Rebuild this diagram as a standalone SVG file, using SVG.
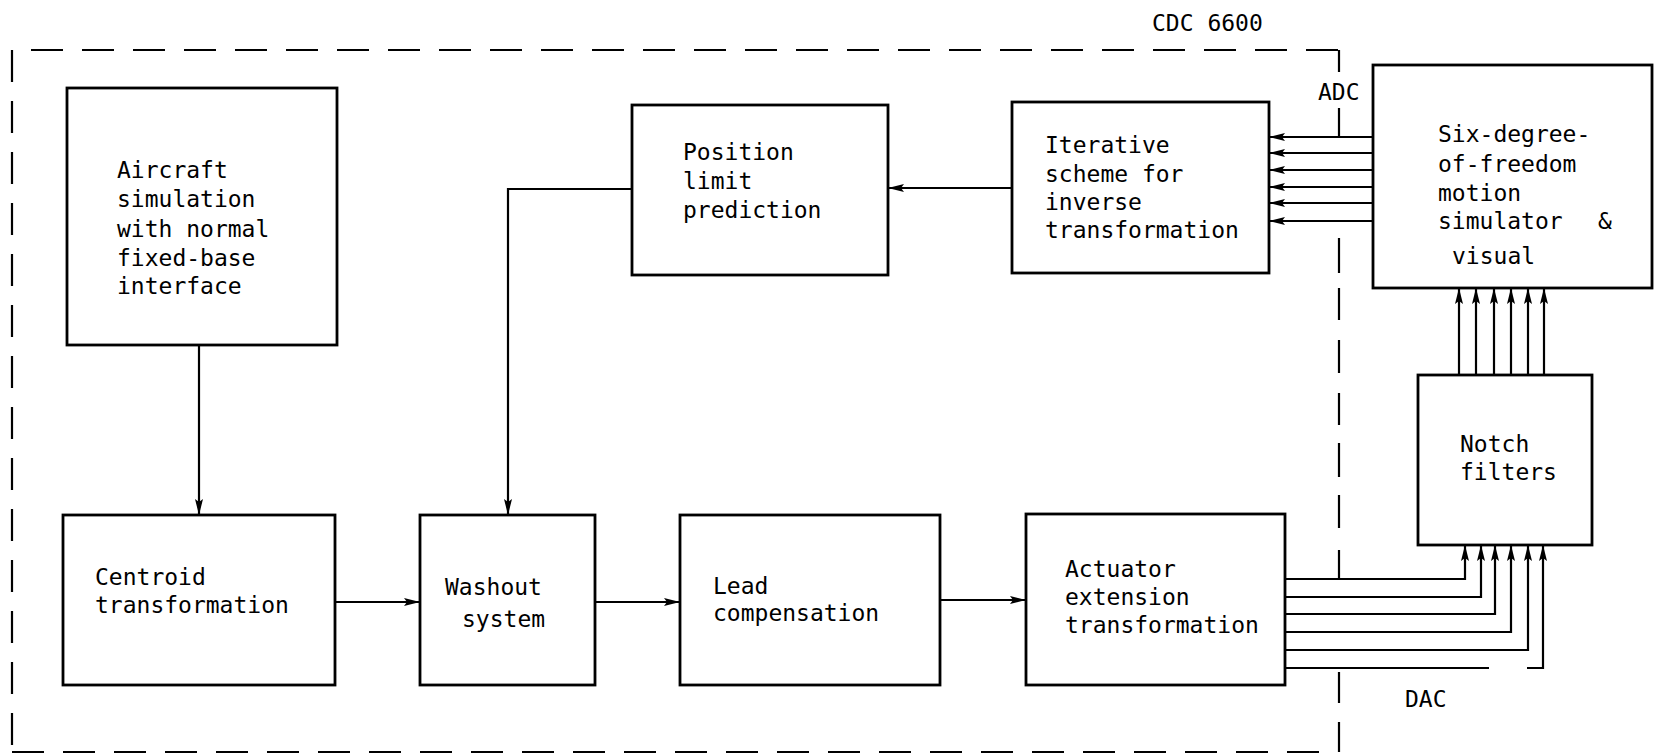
<svg xmlns="http://www.w3.org/2000/svg" width="1657" height="755" viewBox="0 0 1657 755">
<defs>
<marker id="ah" markerUnits="userSpaceOnUse" markerWidth="17" markerHeight="11" refX="16" refY="5.5" orient="auto"><path d="M0,1.5 L16,5.5 L0,9.5 L3,5.5 z" fill="#000"/></marker>
</defs>
<style>
.box{fill:#fff;stroke:#000;stroke-width:2.8}
.t{font-family:"DejaVu Sans Mono","Liberation Mono",monospace;font-size:23px;fill:#000}
.c{fill:none;stroke:#000;stroke-width:2.2}
.d{fill:none;stroke:#000;stroke-width:2.2;stroke-dasharray:32 19}
.s{fill:none;stroke:#000;stroke-width:2.2}
</style>
<rect width="1657" height="755" fill="#fff"/>
<g id="cdc-boundary">
<path class="d" d="M1338,50 L12,50"/>
<path class="d" d="M12,50 L12,753"/>
<path class="d" d="M12,752 L1338,752"/>
<path class="s" d="M1339,50 V72 M1339,108 V136 M1339,238 V273 M1339,288 V320 M1339,340 V373 M1339,393 V425 M1339,443 V477 M1339,495 V528 M1339,550 V580 M1339,672 V703 M1339,722 V752"/>
<text class="t" x="1152" y="31">CDC 6600</text>
<text class="t" x="1318" y="100">ADC</text>
<text class="t" x="1405" y="707">DAC</text>
</g>
<g id="connectors">
<path class="c" d="M199,345 V515" marker-end="url(#ah)"/>
<path class="c" d="M632,189 H508 V515" marker-end="url(#ah)"/>
<path class="c" d="M1012,188 H888" marker-end="url(#ah)"/>
<path class="c" d="M335,602 H420" marker-end="url(#ah)"/>
<path class="c" d="M595,602 H680" marker-end="url(#ah)"/>
<path class="c" d="M940,600 H1026" marker-end="url(#ah)"/>
<path class="c" d="M1373,137 H1269" marker-end="url(#ah)"/>
<path class="c" d="M1373,153 H1269" marker-end="url(#ah)"/>
<path class="c" d="M1373,170 H1269" marker-end="url(#ah)"/>
<path class="c" d="M1373,187 H1269" marker-end="url(#ah)"/>
<path class="c" d="M1373,203 H1269" marker-end="url(#ah)"/>
<path class="c" d="M1373,221 H1269" marker-end="url(#ah)"/>
<path class="c" d="M1459,375 V288" marker-end="url(#ah)"/>
<path class="c" d="M1476,375 V288" marker-end="url(#ah)"/>
<path class="c" d="M1494,375 V288" marker-end="url(#ah)"/>
<path class="c" d="M1511,375 V288" marker-end="url(#ah)"/>
<path class="c" d="M1528,375 V288" marker-end="url(#ah)"/>
<path class="c" d="M1544,375 V288" marker-end="url(#ah)"/>
<path class="c" d="M1285,579 H1465 V545" marker-end="url(#ah)"/>
<path class="c" d="M1285,597 H1481 V545" marker-end="url(#ah)"/>
<path class="c" d="M1285,614 H1495 V545" marker-end="url(#ah)"/>
<path class="c" d="M1285,632 H1511 V545" marker-end="url(#ah)"/>
<path class="c" d="M1285,650 H1528 V545" marker-end="url(#ah)"/>
<path class="c" d="M1285,668 H1489"/>
<path class="c" d="M1527,668 H1543 V545" marker-end="url(#ah)"/>
</g>
<g id="aircraft">
<rect class="box" x="67" y="88" width="270" height="257"/>
<text class="t" x="117" y="178">Aircraft</text>
<text class="t" x="117" y="207">simulation</text>
<text class="t" x="117" y="237">with normal</text>
<text class="t" x="117" y="266">fixed-base</text>
<text class="t" x="117" y="294">interface</text>
</g>
<g id="position-limit">
<rect class="box" x="632" y="105" width="256" height="170"/>
<text class="t" x="683" y="160">Position</text>
<text class="t" x="683" y="189">limit</text>
<text class="t" x="683" y="218">prediction</text>
</g>
<g id="iterative">
<rect class="box" x="1012" y="102" width="257" height="171"/>
<text class="t" x="1045" y="153">Iterative</text>
<text class="t" x="1045" y="182">scheme for</text>
<text class="t" x="1045" y="210">inverse</text>
<text class="t" x="1045" y="238">transformation</text>
</g>
<g id="six-dof">
<rect class="box" x="1373" y="65" width="279" height="223"/>
<text class="t" x="1438" y="142">Six-degree-</text>
<text class="t" x="1438" y="172">of-freedom</text>
<text class="t" x="1438" y="201">motion</text>
<text class="t" x="1438" y="229">simulator</text>
<text class="t" x="1598" y="229">&amp;</text>
<text class="t" x="1452" y="264">visual</text>
</g>
<g id="notch">
<rect class="box" x="1418" y="375" width="174" height="170"/>
<text class="t" x="1460" y="452">Notch</text>
<text class="t" x="1460" y="480">filters</text>
</g>
<g id="centroid">
<rect class="box" x="63" y="515" width="272" height="170"/>
<text class="t" x="95" y="585">Centroid</text>
<text class="t" x="95" y="613">transformation</text>
</g>
<g id="washout">
<rect class="box" x="420" y="515" width="175" height="170"/>
<text class="t" x="445" y="595">Washout</text>
<text class="t" x="462" y="627">system</text>
</g>
<g id="lead">
<rect class="box" x="680" y="515" width="260" height="170"/>
<text class="t" x="713" y="594">Lead</text>
<text class="t" x="713" y="621">compensation</text>
</g>
<g id="actuator">
<rect class="box" x="1026" y="514" width="259" height="171"/>
<text class="t" x="1065" y="577">Actuator</text>
<text class="t" x="1065" y="605">extension</text>
<text class="t" x="1065" y="633">transformation</text>
</g>
</svg>
